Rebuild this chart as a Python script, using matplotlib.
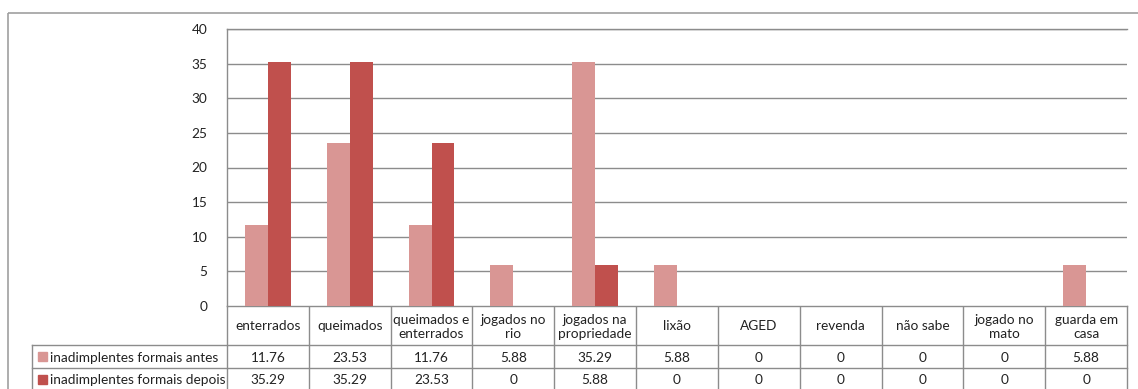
import matplotlib
matplotlib.use("Agg")
import matplotlib.pyplot as plt
import numpy as np
from matplotlib.patches import Rectangle

categories = ["enterrados", "queimados", "queimados e\nenterrados", "jogados no\nrio",
              "jogados na\npropriedade", "lixão", "AGED", "revenda", "não sabe",
              "jogado no\nmato", "guarda em\ncasa"]
series_names = ["inadimplentes formais antes", "inadimplentes formais depois"]
antes = [11.76, 23.53, 11.76, 5.88, 35.29, 5.88, 0, 0, 0, 0, 5.88]
depois = [35.29, 35.29, 23.53, 0, 5.88, 0, 0, 0, 0, 0, 0]
antes_labels = ["11.76", "23.53", "11.76", "5.88", "35.29", "5.88", "0", "0", "0", "0", "5.88"]
depois_labels = ["35.29", "35.29", "23.53", "0", "5.88", "0", "0", "0", "0", "0", "0"]
colors = ["#D99694", "#C0504D"]

plt.rcParams['font.family'] = ['Lato', 'DejaVu Sans']
FS = 9.8
GRID = "#8C8C8C"

W, H = 1138, 389
fig = plt.figure(figsize=(W / 100, H / 100), dpi=100)

# overlay axes in pixel coordinates for frame and table
ov = fig.add_axes([0, 0, 1, 1])
ov.set_xlim(0, W)
ov.set_ylim(H, 0)
ov.axis("off")

# outer chart frame
ov.add_patch(Rectangle((8, 13), W + 20, H + 20, fill=False, edgecolor="#A0A0A0", lw=1.2))

# plot area
L, R, T, B = 227, 1127, 29, 306
ax = fig.add_axes([L / W, 1 - B / H, (R - L) / W, (B - T) / H])
n = len(categories)
x = np.arange(n)
w = 0.28
ax.bar(x - w / 2, antes, w, color=colors[0], zorder=3)
ax.bar(x + w / 2, depois, w, color=colors[1], zorder=3)
ax.set_xlim(-0.5, n - 0.5)
ax.set_ylim(0, 40)
ax.set_yticks(range(0, 41, 5))
ax.set_xticks([])
ax.yaxis.grid(True, color=GRID, lw=1.0, zorder=0)
for s in ["right", "bottom"]:
    ax.spines[s].set_visible(False)
for s in ["left", "top"]:
    ax.spines[s].set_color(GRID)
    ax.spines[s].set_linewidth(1.0)
ax.tick_params(axis="y", length=0, pad=14, labelsize=FS, labelcolor="#222222")

# data table
colw = (R - L) / n
y_head_bot, y_r1_bot, y_r2_bot = 345, 368, 391
legL = 32
lc = GRID
lw = 1.0
# horizontal lines
ov.plot([L, R], [B, B], color=lc, lw=lw)
for yy in (y_head_bot, y_r1_bot, y_r2_bot):
    ov.plot([legL, R], [yy, yy], color=lc, lw=lw)
# vertical lines
ov.plot([legL, legL], [y_head_bot, y_r2_bot], color=lc, lw=lw)
for k in range(n + 1):
    xx = L + k * colw
    ov.plot([xx, xx], [B, y_r2_bot], color=lc, lw=lw)

for k, cat in enumerate(categories):
    cx = L + (k + 0.5) * colw
    ov.text(cx, (B + y_head_bot) / 2 + 1, cat, ha="center", va="center",
            fontsize=FS, color="#222222", linespacing=1.2)
    ov.text(cx, (y_head_bot + y_r1_bot) / 2 + 1, antes_labels[k], ha="center", va="center",
            fontsize=FS, color="#222222")
    ov.text(cx, (y_r1_bot + y_r2_bot) / 2 + 1, depois_labels[k], ha="center", va="center",
            fontsize=FS, color="#222222")

for i, (name, c) in enumerate(zip(series_names, colors)):
    yc = (y_head_bot + y_r1_bot) / 2 if i == 0 else (y_r1_bot + y_r2_bot) / 2
    ov.add_patch(Rectangle((38, yc - 5), 9.5, 9.5, color=c))
    ov.text(50, yc + 1, name, ha="left", va="center", fontsize=FS, color="#222222")

fig.savefig("out.png", dpi=100)
